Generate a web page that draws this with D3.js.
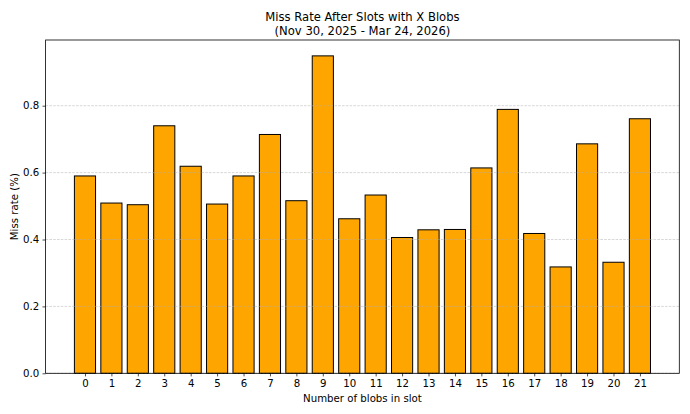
<!DOCTYPE html>
<html>
<head>
<meta charset="utf-8">
<script src="https://cdn.jsdelivr.net/npm/d3@7"></script>
<style>
  html, body { margin: 0; padding: 0; background: #fff; }
  svg { display: block; font-family: "DejaVu Sans", sans-serif; }
</style>
</head>
<body>
<svg id="chart" width="690" height="414"></svg>
<script>
const categories = ["0","1","2","3","4","5","6","7","8","9","10","11","12","13","14","15","16","17","18","19","20","21"];
const missRate = [0.590, 0.509, 0.504, 0.740, 0.619, 0.506, 0.590, 0.714, 0.516, 0.949, 0.462, 0.533, 0.406, 0.429, 0.430, 0.614, 0.789, 0.418, 0.318, 0.686, 0.332, 0.761];
const yTicks = [0.0, 0.2, 0.4, 0.6, 0.8];
const titleLines = ["Miss Rate After Slots with X Blobs", "(Nov 30, 2025 - Mar 24, 2026)"];
const xLabel = "Number of blobs in slot";
const yLabel = "Miss rate (%)";

const svg = d3.select("#chart");
const L = 45.6, R = 679.3, T = 40, B = 373.3;
const barW = 0.8;
const n = categories.length;
const span = (n - 1) + barW;
const margin = span * 0.05;
const x = d3.scaleLinear().domain([-barW/2 - margin, (n - 1) + barW/2 + margin]).range([L, R]);
const ymax = d3.max(missRate) * 1.05;
const y = d3.scaleLinear().domain([0, ymax]).range([B, T]);

const tickFont = 10.2;
const titleFont = 11.6;

// bars
svg.append("g").selectAll("rect").data(missRate).join("rect")
  .attr("x", (d, i) => x(i - barW/2))
  .attr("width", (d, i) => x(i + barW/2) - x(i - barW/2))
  .attr("y", d => y(d))
  .attr("height", d => y(0) - y(d))
  .attr("fill", "#FFA500")
  .attr("stroke", "#000")
  .attr("stroke-width", 1);

// grid lines (above bars, like matplotlib default)
svg.append("g").selectAll("line").data(yTicks).join("line")
  .attr("x1", L).attr("x2", R)
  .attr("y1", d => y(d)).attr("y2", d => y(d))
  .attr("stroke", "#b0b0b0").attr("stroke-opacity", 0.7)
  .attr("stroke-width", 0.7)
  .attr("stroke-dasharray", "2.6,1.2");

// axes
const yAxis = d3.axisLeft(y).tickValues(yTicks).tickFormat(d3.format(".1f")).tickSize(3.1).tickPadding(3.3);
const gy = svg.append("g").attr("transform", `translate(${L},0)`).call(yAxis);
gy.select(".domain").remove();
gy.selectAll("line").attr("stroke", "#000").attr("stroke-width", 0.7);
gy.selectAll("text").attr("font-size", tickFont).attr("font-family", "DejaVu Sans").attr("fill", "#000");

const xAxis = d3.axisBottom(x).tickValues(d3.range(n)).tickFormat(i => categories[i]).tickSize(3.1).tickPadding(3.6);
const gx = svg.append("g").attr("transform", `translate(0,${B})`).call(xAxis);
gx.select(".domain").remove();
gx.selectAll("line").attr("stroke", "#000").attr("stroke-width", 0.7);
gx.selectAll("text").attr("font-size", tickFont).attr("font-family", "DejaVu Sans").attr("fill", "#000");

// spines
svg.append("rect").attr("x", L).attr("y", T).attr("width", R - L).attr("height", B - T)
  .attr("fill", "none").attr("stroke", "#000").attr("stroke-width", 0.8);

// title
svg.append("text").attr("x", (L + R) / 2).attr("y", 21).attr("text-anchor", "middle")
  .attr("font-size", titleFont).text(titleLines[0]);
svg.append("text").attr("x", (L + R) / 2).attr("y", 35).attr("text-anchor", "middle")
  .attr("font-size", titleFont).text(titleLines[1]);

// axis labels
svg.append("text").attr("x", (L + R) / 2).attr("y", 402).attr("text-anchor", "middle")
  .attr("font-size", tickFont).text(xLabel);
svg.append("text").attr("transform", `translate(17.5,${(T + B) / 2}) rotate(-90)`).attr("text-anchor", "middle")
  .attr("font-size", tickFont).text(yLabel);
</script>
</body>
</html>
